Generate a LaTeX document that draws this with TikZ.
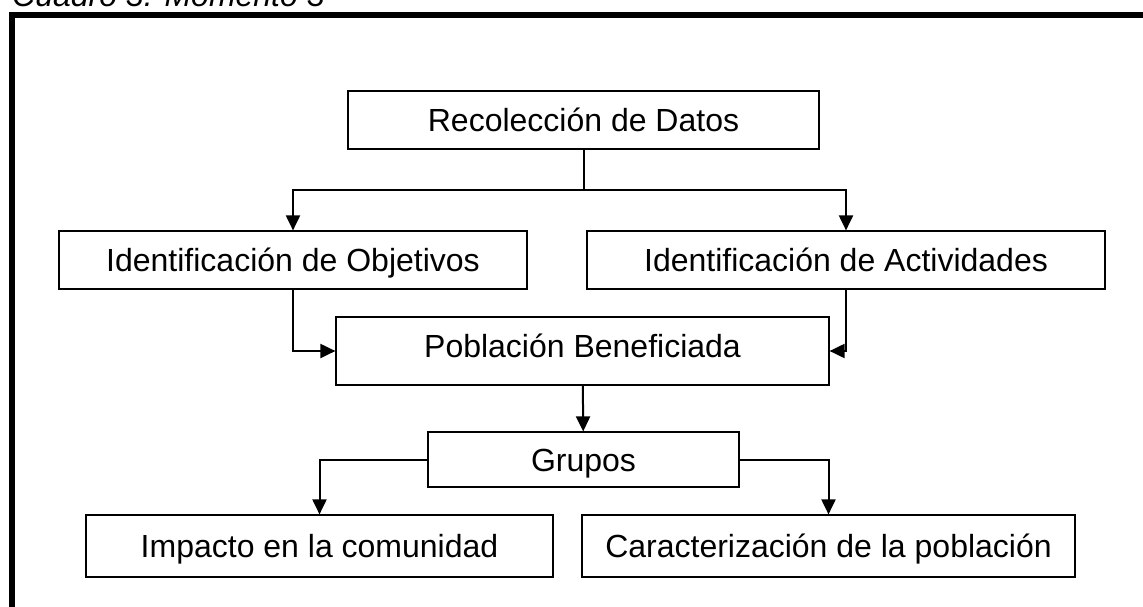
\documentclass[tikz,border=0pt]{standalone}
\usepackage{fontspec}
\setmainfont{Liberation Sans}
\usetikzlibrary{arrows.meta}

\begin{document}
\begin{tikzpicture}[x=1pt,y=-1pt,
		stagebox/.style={draw, line width=1.2pt, inner sep=0pt, text height=23pt, text depth=0pt, font=\fontsize{32}{38}\selectfont},
		link/.style={line width=2pt, -{Triangle[length=15pt,width=14pt]}},
		frameline/.style={line width=6pt}]
		\useasboundingbox (0,0) rectangle (1143,606); % Set diagram to the size of the page

		% Draw the caption above the frame (only its lower part is inside the page)
		\node[anchor=base west, inner sep=0pt, font=\fontsize{32}{38}\selectfont\itshape] (caption) at (12,6) {Cuadro 3. Momento 3};

		% Draw the thick frame, running out past the right and bottom edges
		\draw[frameline] (12,15) rectangle (1170,630);

		% The boxes, top to bottom
		\node[stagebox, minimum width=471pt, minimum height=58pt] (datos) at (583.5,120) {Recolección de Datos};
		\node[stagebox, minimum width=468pt, minimum height=58pt] (objetivos) at (293,260) {Identificación de Objetivos};
		\node[stagebox, minimum width=518pt, minimum height=58pt] (actividades) at (846,260) {Identificación de Actividades};
		\node[stagebox, text depth=10pt, minimum width=493pt, minimum height=68pt] (poblacion) at (582.5,351) {Población Beneficiada};
		\node[stagebox, minimum width=311pt, minimum height=55pt] (grupos) at (583.5,459.5) {Grupos};
		\node[stagebox, minimum width=467pt, minimum height=62pt] (impacto) at (319.5,546) {Impacto en la comunidad};
		\node[stagebox, minimum width=493pt, minimum height=62pt] (caracter) at (828.5,546) {Caracterización de la población};

		% The split point below "Recolección de Datos"
		\coordinate (split) at (583.5,190);
		\draw[line width=2pt] (datos) -- (split);
		\draw[link] (split) -| (objetivos);
		\draw[link] (split) -| (actividades);

		% Both identifications lead into the population box from the sides
		\draw[link] (objetivos) |- (poblacion);
		\draw[link] (actividades) |- (poblacion);

		% Population to groups, then groups to the two results
		\draw[link] (poblacion) -- (grupos);
		\draw[link] (grupos) -| (impacto);
		\draw[link] (grupos) -| (caracter);
	\end{tikzpicture}
\end{document}
